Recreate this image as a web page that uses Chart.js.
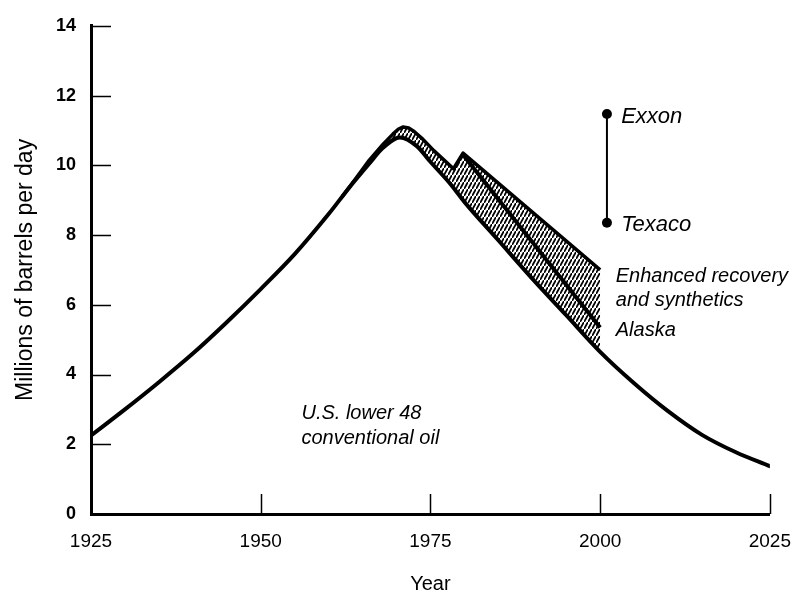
<!DOCTYPE html>
<html>
<head>
<meta charset="utf-8">
<title>U.S. oil production</title>
<script src="https://cdn.jsdelivr.net/npm/chart.js@4/dist/chart.umd.min.js"></script>
<style>
  html, body { margin: 0; padding: 0; background: #fff; }
  canvas { display: block; }
</style>
</head>
<body>
<canvas id="oilChart" width="807" height="596"></canvas>
<script>
'use strict';

// ------------------------------------------------------------
// Data (millions of barrels per day)
// ------------------------------------------------------------
const lower48Years  = [1925, 1930, 1935, 1940, 1945, 1950, 1955, 1960, 1963, 1966, 1968, 1970.5, 1973, 1975, 1978, 1980, 1985, 1990, 1995, 2000, 2005, 2010, 2015, 2020, 2025];
const lower48Values = [2.25, 3.0, 3.78, 4.6, 5.5, 6.45, 7.45, 8.6, 9.35, 10.05, 10.5, 10.8, 10.55, 10.1, 9.45, 8.95, 7.85, 6.75, 5.7, 4.65, 3.75, 2.95, 2.27, 1.77, 1.37];

// total incl. enhanced recovery & synthetics (upper edge of hatching)
const enhancedYears  = [1962, 1964, 1966, 1968, 1969.5, 1970.3, 1971, 1971.8, 1972.6, 1973.7, 1975.5, 1978.4, 1979.8, 2000];
const enhancedValues = [9.1, 9.62, 10.15, 10.6, 10.9, 11.04, 11.1, 11.07, 10.97, 10.78, 10.42, 9.9, 10.35, 7.0];

// lower 48 + Alaska
const alaskaYears  = [1979.8, 2000];
const alaskaValues = [10.3, 5.35];

// company estimates for 2000
const estimateYears  = [2001, 2001];
const estimateValues = [11.47, 8.35];
const estimateNames  = ['Exxon', 'Texaco'];

const xTicks = [1925, 1950, 1975, 2000, 2025];
const yTicks = [0, 2, 4, 6, 8, 10, 12, 14];

// text placed in data space
const notes = [
    { text: estimateNames[0],    x: 2003.1, y: 11.4,  size: 22 },
    { text: estimateNames[1],    x: 2003.1, y: 8.3,   size: 22 },
    { text: 'Enhanced recovery', x: 2002.3, y: 6.8,   size: 20 },
    { text: 'and synthetics',    x: 2002.3, y: 6.13,  size: 20 },
    { text: 'Alaska',            x: 2002.3, y: 5.26,  size: 20 },
    { text: 'U.S. lower 48',     x: 1956,   y: 2.87,  size: 20 },
    { text: 'conventional oil',  x: 1956,   y: 2.18,  size: 20 },
];

const FONT = "'Liberation Sans', Arial, Helvetica, sans-serif";
const pts = (xs, ys) => xs.map((x, i) => ({ x, y: ys[i] }));

// ------------------------------------------------------------
// Hatch pattern for the Alaska / enhanced recovery band
// ------------------------------------------------------------
function makeHatch() {
    const c = document.createElement('canvas');
    c.width = 4; c.height = 7;
    const g = c.getContext('2d');
    g.strokeStyle = '#000';
    g.lineWidth = 1.8;
    g.beginPath();
    g.moveTo(-1, 8.75); g.lineTo(5, -1.75);
    g.stroke();
    return g.createPattern(c, 'repeat');
}

// short tick marks drawn inward from the axes
const innerTicks = {
    id: 'innerTicks',
    afterDraw(chart) {
        const { ctx, chartArea, scales: { x, y } } = chart;
        ctx.save();
        ctx.strokeStyle = '#000';
        ctx.lineWidth = 1.5;
        ctx.beginPath();
        y.ticks.forEach(t => {
            if (t.value === 0) return;
            const py = Math.round(y.getPixelForValue(t.value)) + 0.5;
            ctx.moveTo(chartArea.left, py);
            ctx.lineTo(chartArea.left + 20, py);
        });
        x.ticks.forEach(t => {
            if (t.value === xTicks[0]) return;
            const px = Math.round(x.getPixelForValue(t.value)) + 0.5;
            ctx.moveTo(px, chartArea.bottom);
            ctx.lineTo(px, chartArea.bottom - 20);
        });
        ctx.stroke();
        ctx.restore();
    }
};

// italic annotations
const noteLabels = {
    id: 'noteLabels',
    afterDraw(chart) {
        const { ctx, scales: { x, y } } = chart;
        ctx.save();
        ctx.fillStyle = '#000';
        ctx.textAlign = 'left';
        ctx.textBaseline = 'middle';
        notes.forEach(n => {
            ctx.font = 'italic ' + n.size + 'px ' + FONT;
            ctx.fillText(n.text, x.getPixelForValue(n.x), y.getPixelForValue(n.y));
        });
        ctx.restore();
    }
};

new Chart(document.getElementById('oilChart'), {
    type: 'line',
    data: {
        datasets: [
            {
                label: 'U.S. lower 48 conventional oil',
                data: pts(lower48Years, lower48Values),
                borderColor: '#000',
                borderWidth: 4,
                cubicInterpolationMode: 'monotone',
                borderCapStyle: 'round',
                borderJoinStyle: 'round',
                pointRadius: 0,
                fill: false,
            },
            {
                label: 'Enhanced recovery and synthetics',
                data: pts(enhancedYears, enhancedValues),
                borderColor: '#000',
                borderWidth: 3.5,
                tension: 0,
                borderJoinStyle: 'round',
                pointRadius: 0,
                backgroundColor: makeHatch(),
                fill: { target: 0 },
            },
            {
                label: 'Alaska',
                data: pts(alaskaYears, alaskaValues),
                borderColor: '#000',
                borderWidth: 4,
                pointRadius: 0,
                fill: false,
            },
            {
                label: 'Estimates',
                data: pts(estimateYears, estimateValues),
                borderColor: '#000',
                borderWidth: 2,
                pointRadius: 5,
                pointBackgroundColor: '#000',
                pointBorderWidth: 0,
                fill: false,
            },
        ]
    },
    options: {
        responsive: false,
        animation: false,
        devicePixelRatio: 1,
        layout: { padding: { top: 21, right: 33, left: 0, bottom: 0 } },
        plugins: {
            legend: { display: false },
            tooltip: { enabled: false },
        },
        scales: {
            x: {
                type: 'linear',
                min: 1925,
                max: 2025,
                afterBuildTicks: s => { s.ticks = xTicks.map(v => ({ value: v })); },
                afterFit: s => { s.height = 82; },
                grid: { display: false, drawTicks: false },
                border: { display: true, color: '#000', width: 3 },
                ticks: {
                    color: '#000',
                    padding: 16,
                    font: { family: FONT, size: 19 },
                    callback: v => String(v),
                },
                title: {
                    display: true,
                    text: 'Year',
                    color: '#000',
                    font: { family: FONT, size: 20 },
                    padding: { top: 0, bottom: 0 },
                },
            },
            y: {
                min: 0,
                max: 14,
                afterBuildTicks: s => { s.ticks = yTicks.map(v => ({ value: v })); },
                afterFit: s => { s.width = 91; },
                grid: { display: false, drawTicks: false },
                border: { display: true, color: '#000', width: 3 },
                ticks: {
                    color: '#000',
                    padding: 15,
                    font: { family: FONT, size: 18, weight: 'bold' },
                    callback: v => String(v),
                },
                title: {
                    display: true,
                    text: 'Millions of barrels per day',
                    color: '#000',
                    font: { family: FONT, size: 23 },
                    padding: { top: 12, bottom: 0 },
                },
            },
        },
    },
    plugins: [innerTicks, noteLabels],
});
</script>
</body>
</html>
